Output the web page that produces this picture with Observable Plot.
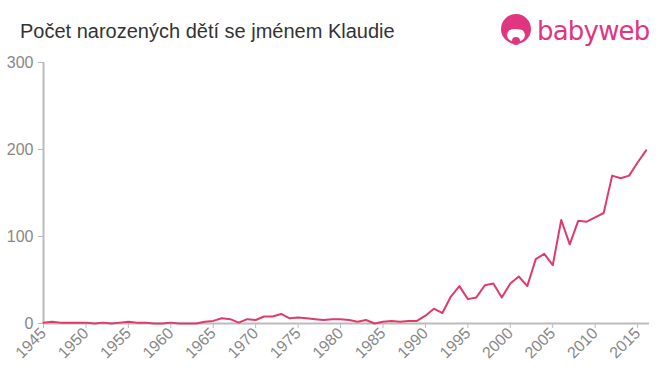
<!DOCTYPE html>
<html>
<head>
<meta charset="utf-8">
<script src="https://cdn.jsdelivr.net/npm/d3@7"></script>
<script src="https://cdn.jsdelivr.net/npm/@observablehq/plot@0.6"></script>
<style>
  body { margin: 0; background: #fff; font-family: "Liberation Sans", Arial, sans-serif; }
  #wrap { position: relative; width: 660px; height: 375px; overflow: hidden; }
  #title { position: absolute; left: 20px; top: 20px; font-size: 20px; line-height: 23px; color: #333; }
  #logo { position: absolute; left: 500px; top: 14px; display: flex; align-items: center; }
  #logo span { font-family: "DejaVu Sans", sans-serif; font-size: 26px; color: #e0357f; margin-left: 5px; letter-spacing: -0.8px; }
</style>
</head>
<body>
<div id="wrap">
  <div id="chart"></div>
  <div id="title">Počet narozených dětí se jménem Klaudie</div>
  <div id="logo">
    <svg width="32" height="34" viewBox="0 0 32 34">
      <circle cx="16" cy="15" r="15" fill="#e0357f"/>
      <ellipse cx="16" cy="21" rx="9" ry="7" fill="#fff"/>
      <circle cx="16" cy="27" r="4" fill="#e0357f"/>
      <path d="M4 12 Q16 4 28 12 L28 18 Q16 12 4 18 Z" fill="#e0357f"/>
    </svg>
    <span>babyweb</span>
  </div>
</div>
<script>
const years = d3.range(1945, 2017);
const counts = [1,2,1,1,1,1,0,1,0,1,2,1,1,0,0,1,0,0,0,2,3,6,5,1,5,4,8,8,11,6,7,6,5,4,5,5,4,2,4,0,2,3,2,3,3,9,17,12,31,43,28,30,44,46,30,46,54,43,74,80,67,119,91,118,117,122,127,170,167,170,185,199];
const xTicks = d3.range(1945, 2016, 5);
const yTicks = [0, 100, 200, 300];
const data = years.map((y, i) => ({year: y, count: counts[i]}));

const chart = Plot.plot({
  width: 660,
  height: 375,
  marginLeft: 43,
  marginRight: 11,
  marginTop: 62,
  marginBottom: 52,
  style: {background: "#fff", fontFamily: "Liberation Sans, Arial, sans-serif"},
  x: {domain: [1945, 2016.4], label: null},
  y: {domain: [0, 300], label: null},
  marks: [
    Plot.ruleX([1945], {stroke: "#bbb", strokeWidth: 2}),
    Plot.ruleY([0], {stroke: "#bbb", strokeWidth: 2}),
    Plot.axisY({ticks: yTicks, label: null, tickSize: 5, tickPadding: 5, stroke: "#bbb", fill: "#888", fontSize: 16, tickFormat: d => d}),
    Plot.axisX({ticks: xTicks, label: null, tickSize: 5, tickPadding: 2, tickRotate: -45, stroke: "#bbb", fill: "#888", fontSize: 16, tickFormat: d => String(d)}),
    Plot.line(data, {x: "year", y: "count", stroke: "#df3b6a", strokeWidth: 2})
  ]
});
document.getElementById("chart").appendChild(chart);
</script>
</body>
</html>
